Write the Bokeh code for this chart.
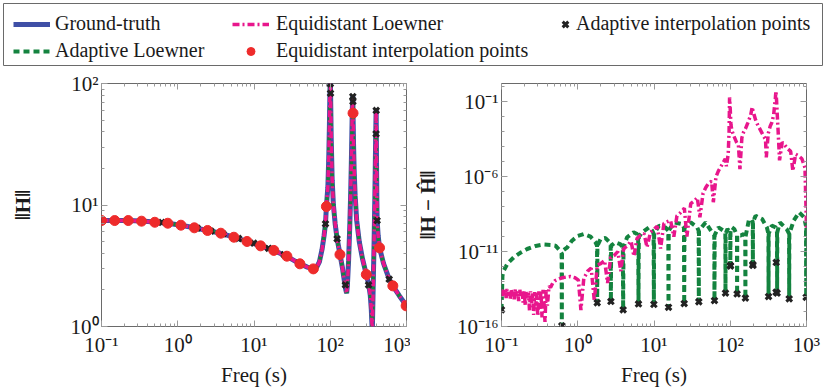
from bokeh.plotting import figure
from bokeh.models import FixedTicker, LogAxis, CustomJSTickFormatter, Legend, LegendItem
from bokeh.layouts import column, row
from bokeh.embed import file_html
from bokeh.resources import INLINE

# ---------------- data ----------------
# Ground-truth magnitude ||H|| (left panel); the two Loewner models coincide with it
gt_freq = [0.1, 0.15, 0.22, 0.33, 0.5, 0.74, 1.1, 1.65, 2.46, 3.67, 5.45, 8.1, 12.2, 18.2, 27, 40,
           50, 60, 66, 72, 78, 83, 86.6, 89, 93, 95.5, 97.5, 99, 100.3, 101, 103, 106, 110, 116,
           123, 134, 145, 154, 160, 164, 168, 174, 180, 185, 189, 192, 194.5, 196.5, 197.5, 198.3,
           199, 202, 206, 212, 222, 240, 265, 297, 320, 335, 345, 352, 356, 361, 368, 376, 383,
           389, 394, 397.5, 400, 401.5, 404, 408, 412, 425, 443, 500, 593, 662, 800, 1000]
gt_mag = [7.45, 7.45, 7.45, 7.38, 7.23, 7.08, 6.82, 6.5, 6.17, 5.85, 5.44, 5.01, 4.61, 4.22, 3.78, 3.28,
          3.08, 2.98, 3.05, 3.4, 4.3, 5.6, 7.0, 9.7, 14, 24, 45, 85, 125, 83, 35, 16, 10, 7,
          5.27, 3.95, 3.0, 2.32, 2.0, 1.88, 2.2, 3.5, 6.5, 12, 22, 38, 60, 76, 80, 72,
          57, 32, 19, 12, 7.5, 5.0, 3.6, 2.68, 2.2, 1.8, 1.4, 1.05, 0.9, 1.4, 2.6, 5, 10,
          19, 35, 50, 62, 45, 25, 12, 7.45, 5.6, 4.44, 3.3, 2.45, 2.16, 1.8, 1.48]

# Equidistant interpolation points
ep_freq = [0.1, 0.149, 0.224, 0.335, 0.5, 0.74, 1.1, 1.65, 2.46, 3.67, 5.45, 8.1, 12.2, 18.2,
           27, 40, 60, 89, 134, 199, 297, 443, 662, 989]
ep_mag = [7.45, 7.45, 7.45, 7.36, 7.21, 7.08, 6.82, 6.49, 6.17, 5.86, 5.43, 5.01, 4.61, 4.23,
          3.79, 3.28, 2.98, 9.72, 3.91, 57, 2.68, 4.44, 2.16, 1.48]

# Adaptive interpolation points (magnitude on the left, error on the right)
ap_freq = [0.1, 0.618, 1.80, 2.72, 3.94, 6.26, 9.96, 15.5, 24.9, 38.7, 62.1, 86.6, 100.3, 100.8,
           123, 158, 197.5, 198.3, 318, 399, 400.5, 412, 593, 990]
ap_mag = [7.45, 7.18, 6.45, 6.1, 5.78, 5.3, 4.85, 4.4, 3.9, 3.32, 3.0, 7.0, 99.5, 83,
          5.27, 2.2, 78, 71, 2.2, 38.5, 60, 7.45, 2.45, 1.49]
ap_err = [1.3e-15, 1.1e-16, 3.8e-15, 4.7e-15, 1.3e-15, 3.2e-15, 3.0e-15, 1.9e-15, 3.4e-15, 4.5e-15,
          5.4e-15, 1.7e-14, 1.2e-12, 1.1e-12, 1.5e-14, 7.9e-15, 1.4e-12, 1.2e-12, 1.0e-14, 1.95e-14,
          1.9e-12, 1.7e-14, 7.1e-15, 8.9e-15]

# Error of the equidistant Loewner model ||H - H^|| (right panel)
el_freq = [0.100, 0.103, 0.106, 0.109, 0.112, 0.115, 0.118, 0.122, 0.126, 0.130, 0.134, 0.138,
           0.142, 0.147, 0.152, 0.157, 0.162, 0.168, 0.174, 0.180, 0.186, 0.192, 0.198, 0.205,
           0.212, 0.219, 0.226, 0.233, 0.240, 0.248, 0.256, 0.264, 0.272, 0.281, 0.290, 0.299,
           0.309, 0.319, 0.329, 0.340, 0.351, 0.362, 0.372, 0.385, 0.40, 0.42, 0.44, 0.47, 0.50,
           0.55, 0.62, 0.70, 0.80, 0.92, 1.02, 1.1, 1.2, 1.35, 1.5, 1.65, 1.8, 2.0, 2.25, 2.46,
           2.7, 3.0, 3.35, 3.67, 4.0, 4.5, 5.0, 5.45, 6.0, 6.6, 7.4, 8.1, 9.0, 10.0, 11.0, 12.2,
           13.5, 15.0, 16.5, 18.2, 20, 22.3, 25, 27, 30.3, 34, 37, 40, 44, 48, 52.6, 57, 60, 65,
           70, 78.6, 86, 89, 94, 96.5, 98, 100, 102, 105, 112, 121, 128, 134, 142, 150, 158, 170,
           185, 194, 199, 215, 227, 250, 275, 290, 297, 315, 335, 350, 370, 390, 397, 405, 413,
           425, 443, 480, 505, 560, 620, 662, 720, 790, 870, 955, 1000]
el_err = [2.5e-14, 1.1e-14, 3.5e-14, 1.3e-14, 2.8e-14, 8.0e-15, 3.2e-14, 1.2e-14, 2.2e-14,
          7.0e-15, 3.0e-14, 1.0e-14, 2.6e-14, 6.5e-15, 3.2e-14, 1.1e-14, 2.4e-14, 5.0e-15,
          2.8e-14, 9.0e-15, 2.2e-14, 4.0e-15, 2.5e-14, 2.5e-15, 2.0e-14, 7.0e-15, 1.8e-14,
          1.2e-15, 2.2e-14, 3.0e-15, 1.6e-14, 6.0e-16, 2.0e-14, 2.5e-15, 1.8e-14, 5.0e-16,
          2.2e-14, 1.5e-15, 2.5e-14, 4.0e-16, 2.8e-14, 3.0e-15, 2.0e-16, 3.2e-14, 2.5e-15,
          5.0e-14, 4.0e-14, 7.9e-14, 1.12e-13, 1.4e-13, 1.8e-13, 2.0e-13, 2.2e-13, 1.8e-13,
          1.26e-13, 1.26e-15, 1.6e-13, 5.0e-13, 7.9e-13, 5.0e-15, 1.26e-12, 1.6e-12, 2.5e-12,
          7.9e-14, 4.0e-12, 5.6e-12, 1.0e-11, 5.0e-13, 1.6e-11, 2.5e-11, 5.0e-11, 5.0e-12,
          7.9e-11, 1.2e-10, 1.6e-10, 2.0e-11, 2.0e-10, 3.2e-10, 5.0e-10, 1.6e-11, 7.9e-10,
          1.0e-9, 1.2e-9, 1.0e-10, 2.5e-9, 4.0e-9, 7.9e-9, 1.0e-10, 1.6e-8, 2.5e-8, 4.0e-8,
          2.0e-9, 7.9e-8, 2.0e-7, 4.0e-7, 5.0e-7, 2.0e-8, 1.0e-6, 2.5e-6, 6.9e-6, 1.6e-5,
          5.0e-6, 3.2e-5, 1.0e-3, 0.2, 0.032, 3.2e-3, 1.26e-3, 5.0e-4, 2.0e-4, 1.26e-4, 3.2e-6,
          4.0e-4, 1.0e-3, 1.6e-3, 4.0e-3, 0.0126, 0.045, 0.025, 6.3e-3, 3.2e-3, 1.26e-3, 5.0e-4,
          3.2e-4, 2.0e-5, 7.9e-4, 2.5e-3, 4.0e-3, 0.0126, 0.16, 0.54, 0.126, 0.016, 1.0e-3,
          1.26e-5, 2.0e-4, 1.6e-4, 7.9e-5, 5.0e-5, 2.5e-6, 3.2e-5, 2.5e-5, 1.6e-5, 4.0e-6,
          4.0e-10]

# Error of the adaptive Loewner model (right panel)
al_freq = [0.1, 0.103, 0.107, 0.12, 0.145, 0.18, 0.217, 0.28, 0.36, 0.45, 0.51, 0.59, 0.614, 0.618,
           0.622, 0.65, 0.73, 0.84, 1.0, 1.2, 1.47, 1.71, 1.79, 1.80, 1.81, 1.99, 2.31, 2.62, 2.70,
           2.72, 2.74, 3.12, 3.6, 3.90, 3.94, 3.98, 4.44, 5.4, 6.0, 6.20, 6.26, 6.32, 7.0, 8.6, 9.5,
           9.88, 9.96, 10.04, 11.6, 14.1, 15.4, 15.5, 15.6, 18.3, 23.5, 24.7, 24.9, 25.1, 30.3,
           36.8, 38.5, 38.7, 38.9, 47.5, 57.6, 61.7, 62.1, 62.5, 70, 81.5, 86.2, 86.6, 87.0, 92,
           99.9, 100.3, 100.7, 105, 113, 122.5, 123, 123.5, 137, 150, 157.4, 158, 158.6, 175, 188,
           197, 198, 199, 215, 262, 302, 316.5, 318, 319.5, 350, 395, 410, 412, 414, 448, 550, 590,
           593, 596, 680, 800, 930, 985, 990, 995, 1000]
al_err = [1.3e-15, 2.5e-13, 5.4e-13, 1.6e-12, 4.2e-12, 8.9e-12, 1.5e-11, 2.4e-11, 3.0e-11, 2.8e-11,
          2.5e-11, 1.12e-11, 7.9e-12, 1.1e-16, 7.9e-12, 1.26e-11, 1.95e-11, 5.4e-11, 1.12e-10,
          1.5e-10, 1.0e-10, 4.2e-11, 2.5e-11, 3.8e-15, 2.5e-11, 6.9e-11, 8.1e-11, 4.2e-11, 2.5e-11,
          4.7e-15, 2.5e-11, 4.2e-11, 3.2e-11, 2.0e-11, 1.3e-15, 2.0e-11, 9.1e-11, 1.95e-10, 1.5e-10,
          1.0e-10, 3.2e-15, 1.0e-10, 1.95e-10, 4.2e-10, 2.5e-10, 1.6e-10, 3.0e-15, 1.6e-10, 5.4e-10,
          4.2e-10, 2.5e-10, 1.9e-15, 2.5e-10, 8.9e-10, 6.9e-10, 4.0e-10, 3.4e-15, 4.0e-10, 8.9e-10,
          4.2e-10, 2.5e-10, 4.5e-15, 2.5e-10, 8.9e-10, 1.95e-10, 1.26e-10, 5.4e-15, 1.26e-10,
          4.2e-10, 2.5e-10, 1.6e-10, 1.7e-14, 1.6e-10, 3.2e-10, 2.0e-10, 1.2e-12, 2.0e-10, 4.2e-10,
          3.2e-10, 1.26e-10, 1.5e-14, 1.26e-10, 1.2e-10, 1.5e-10, 1.0e-10, 7.9e-15, 1.0e-10, 1.2e-9,
          1.5e-9, 1.0e-9, 1.4e-12, 1.0e-9, 2.5e-9, 1.5e-9, 4.2e-10, 1.6e-10, 1.0e-14, 1.6e-10,
          5.4e-10, 4.2e-10, 2.0e-10, 1.95e-14, 2.0e-10, 8.9e-10, 3.2e-10, 1.6e-10, 7.1e-15, 1.6e-10,
          1.2e-9, 4.2e-9, 1.95e-9, 5.0e-10, 8.9e-15, 3.2e-10, 5.0e-10]

# ---------------- style ----------------
FONT = "Times"
LFONT = "Liberation Serif"
FS = "21px"
LFS = "20px"
TXT = "#1a1a1a"
TICK = "#9a9a9a"
FRAME = "#6a6a6a"
BLUE = "#3f4fa6"
GREEN = "#14833f"
MAGENTA = "#e8168c"
RED = "#ee2b2b"
BLACK = "#222222"

X_MAJOR = [0.1, 1, 10, 100, 1000]
X_MINOR = [m * 10.0 ** d for d in range(-1, 3) for m in range(2, 10)]

FMT_CODE = r"""
const sup = {"-": "\u207b", "0": "\u2070", "1": "\u00b9", "2": "\u00b2", "3": "\u00b3",
             "4": "\u2074", "5": "\u2075", "6": "\u2076", "7": "\u2077", "8": "\u2078", "9": "\u2079"};
const e = Math.round(Math.log10(tick));
let s = "";
for (const c of String(e)) { s += sup[c]; }
return "10" + s;
"""


def style_axis(ax, ticker):
    ax.ticker = ticker
    ax.axis_line_color = None
    ax.major_tick_in = 6
    ax.major_tick_out = 0
    ax.minor_tick_in = 3
    ax.minor_tick_out = 0
    ax.major_tick_line_color = TICK
    ax.minor_tick_line_color = TICK


def make_plot(width, y_range, y_major, y_minor, y_label, border_left, border_right, ylab_standoff):
    p = figure(width=width, height=321, x_axis_type="log", y_axis_type="log",
               x_range=(0.1, 1000), y_range=y_range, toolbar_location=None,
               output_backend="svg", min_border_left=border_left, min_border_right=border_right,
               min_border_top=15, min_border_bottom=63)
    p.grid.visible = False
    p.outline_line_color = FRAME
    p.outline_line_width = 1
    xt = FixedTicker(ticks=X_MAJOR, minor_ticks=X_MINOR)
    yt = FixedTicker(ticks=y_major, minor_ticks=y_minor)
    for ax, t in ((p.below[0], xt), (p.left[0], yt)):
        style_axis(ax, t)
        ax.formatter = CustomJSTickFormatter(code=FMT_CODE)
        ax.major_label_text_font = FONT
        ax.major_label_text_font_size = FS
        ax.major_label_text_font_style = "normal"
        ax.major_label_text_color = TXT
        ax.axis_label_text_font = FONT
        ax.axis_label_text_font_size = FS
        ax.axis_label_text_color = TXT
    p.below[0].axis_label = "Freq (s)"
    p.below[0].axis_label_text_font_style = "normal"
    p.below[0].major_label_standoff = 6
    p.below[0].axis_label_standoff = 3
    p.left[0].axis_label = y_label
    p.left[0].axis_label_text_font_style = "bold"
    p.left[0].major_label_standoff = 3
    p.left[0].axis_label_standoff = ylab_standoff
    for t, place in ((xt, "above"), (yt, "right")):
        ax = LogAxis(major_label_text_font_size="1px", major_label_text_alpha=0,
                     major_label_standoff=0)
        style_axis(ax, t)
        p.add_layout(ax, place)
    return p


# ---------------- left panel ----------------
left = make_plot(410, (1, 100), [1, 10, 100],
                 [m * 10.0 ** d for d in range(0, 2) for m in range(2, 10)],
                 "\u2016H\u2016", 101, 4, 33)
left.line(gt_freq, gt_mag, line_color=BLUE, line_width=5)
left.line(gt_freq, gt_mag, line_color=GREEN, line_width=3.5, line_dash="6 4")
left.line(gt_freq, gt_mag, line_color=MAGENTA, line_width=3.5, line_dash="7 3 2 3")
left.scatter(ap_freq, ap_mag, marker="x", size=8, line_width=3, line_color=BLACK)
left.scatter(ep_freq, ep_mag, marker="circle", size=10, fill_color=RED, line_color=RED)

# ---------------- right panel ----------------
right = make_plot(416, (1e-16, 1.7), [1e-16, 1e-11, 1e-6, 1e-1],
                  [10.0 ** d for d in range(-16, 1)],
                  "\u2016H \u2212 \u0124\u2016", 91, 20, 14)
right.line(al_freq, al_err, line_color=GREEN, line_width=4, line_dash="6 4")
right.line(el_freq, el_err, line_color=MAGENTA, line_width=3.5, line_dash="7 3 2 3")
right.scatter(ap_freq, ap_err, marker="x", size=8, line_width=3, line_color=BLACK)

# ---------------- legend strip ----------------
# the legend renderers reuse the real series; the strip's ranges keep them out of view
lg = figure(width=826, height=68, x_range=(-3, -2), y_range=(-3, -2), toolbar_location=None,
            output_backend="svg", x_axis_location=None, y_axis_location=None,
            min_border_left=3, min_border_right=4, min_border_top=3, min_border_bottom=3)
lg.grid.visible = False
lg.outline_line_color = FRAME
r_gt = lg.line(gt_freq, gt_mag, line_color=BLUE, line_width=5)
r_al = lg.line(gt_freq, gt_mag, line_color=GREEN, line_width=4, line_dash="6 4")
r_el = lg.line(gt_freq, gt_mag, line_color=MAGENTA, line_width=3.5, line_dash="7 3 2 3")
r_ep = lg.scatter(ep_freq, ep_mag, marker="circle", size=10, fill_color=RED, line_color=RED)
r_ap = lg.scatter(ap_freq, ap_mag, marker="x", size=8, line_width=3, line_color=BLACK)

entries = [
    ("Ground-truth", r_gt, 10, 30, 37, 5),
    ("Equidistant Loewner", r_el, 229, 30, 37, 7),
    ("Adaptive interpolation points", r_ap, 552, 30, 20, 1),
    ("Adaptive Loewner", r_al, 10, 3, 37, 5),
    ("Equidistant interpolation points", r_ep, 229, 3, 37, 7),
]
for label, rend, lx, ly, gw, st in entries:
    leg = Legend(items=[LegendItem(label=label, renderers=[rend])], location=(lx, ly),
                 orientation="vertical", padding=0, margin=0, spacing=0,
                 border_line_alpha=0, background_fill_alpha=0,
                 glyph_width=gw, glyph_height=20, label_standoff=st,
                 label_text_font=LFONT, label_text_font_size=LFS, label_text_color=TXT)
    lg.add_layout(leg, "center")

layout = column(lg, row(left, right))
open("out.html", "w").write(file_html(layout, INLINE))
